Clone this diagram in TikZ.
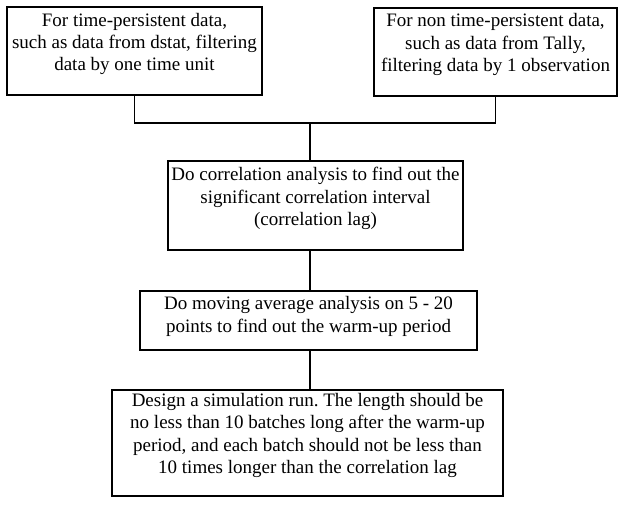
\documentclass[tikz,border=0pt]{standalone}
\usepackage{fontspec}
\setmainfont{Liberation Serif}
\frenchspacing
\begin{document}
\begin{tikzpicture}[x=1pt,y=-1pt,
  box/.style={draw=black, line width=1.8pt, rectangle, inner sep=0pt},
  txt/.style={inner sep=0pt, font=\fontsize{19}{22.5}\selectfont},
  link/.style={draw=black, line width=1.6pt},
  spine/.style={draw=black, line width=2.2pt}]
\useasboundingbox (0,0) rectangle (619,506);
% boxes
\node[box, minimum width=255pt, minimum height=88pt] (b1) at (134.5,51) {};
\node[box, minimum width=243pt, minimum height=88pt] (b2) at (495.5,52) {};
\node[box, minimum width=295pt, minimum height=89pt] (b3) at (315.5,205.5) {};
\node[box, minimum width=337pt, minimum height=59pt] (b4) at (308.5,320.5) {};
\node[box, minimum width=391pt, minimum height=106pt] (b5) at (307.5,443) {};
% texts
\node[txt] (t1) at (134.5,44) {\begin{tabular}{@{}c@{}}For time-persistent data,\\ such as data from dstat, filtering\\ data by one time unit\end{tabular}};
\node[txt] (t2) at (495.5,45) {\begin{tabular}{@{}c@{}}For non time-persistent data,\\ such as data from Tally,\\ filtering data by 1 observation\end{tabular}};
\node[txt] (t3) at (315.5,198.5) {\begin{tabular}{@{}c@{}}Do correlation analysis to find out the\\ significant correlation interval\\ (correlation lag)\end{tabular}};
\node[txt] (t4) at (308.5,316.5) {\begin{tabular}{@{}c@{}}Do moving average analysis on 5 - 20\\ points to find out the warm-up period\end{tabular}};
\node[txt] (t5) at (307.5,435.5) {\begin{tabular}{@{}c@{}}Design a simulation run. The length should be\\ no less than 10 batches long after the warm-up\\ period, and each batch should not be less than\\ 10 times longer than the correlation lag\end{tabular}};
% connectors
\coordinate (j) at (310,123);
\draw[link] (b1.south) -- (b1.south |- j) -- (b2.south |- j) -- (b2.south);
\draw[spine] (j) -- (j |- b3.north);
\draw[spine] (j |- b3.south) -- (j |- b4.north);
\draw[spine] (j |- b4.south) -- (j |- b5.north);
\end{tikzpicture}
\end{document}
